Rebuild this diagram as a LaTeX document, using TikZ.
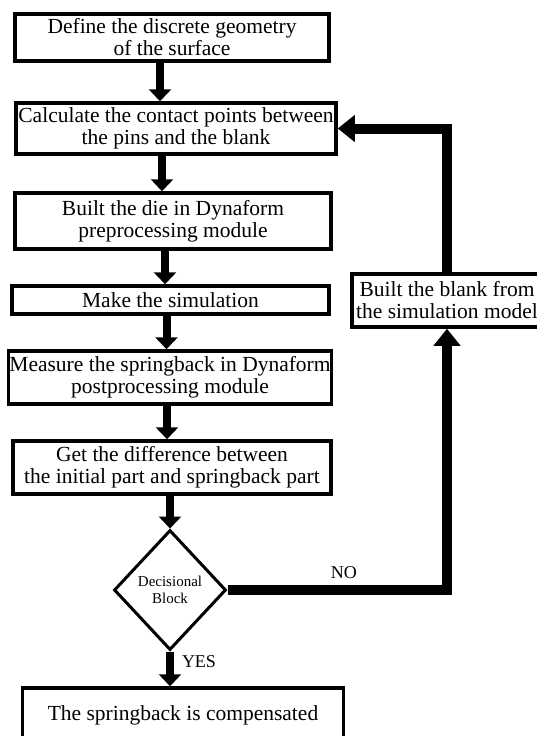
\documentclass[tikz,border=0pt]{standalone}
\usepackage{fontspec}
\setmainfont{Liberation Serif}
\usetikzlibrary{arrows.meta,shapes.geometric,positioning}

\begin{document}
\begin{tikzpicture}[
  x=1pt, y=-1pt,
  font=\fontsize{21.5}{22}\selectfont,
  every node/.style={align=center},
  stepbox/.style={rectangle, draw=black, line width=3.5pt, inner xsep=1pt, inner ysep=2pt, fill=white},
  decision/.style={diamond, draw=black, line width=3pt, inner sep=0pt, minimum width=112pt, minimum height=120pt, fill=white, font=\fontsize{15}{17}\selectfont},
  flowarrow/.style={-{Triangle[length=12pt, width=22pt]}, line width=8pt},
  feedback/.style={-{Triangle[length=17pt, width=26pt]}, line width=10pt},
  lbl/.style={font=\fontsize{18}{18}\selectfont, inner sep=0pt}
]
  \path[use as bounding box, fill=white] (0,0) rectangle (537,736);

  \node[stepbox, minimum width=314pt, minimum height=47pt] (geom)    at (172,37.5)  {Define the discrete geometry\\of the surface};
  \node[stepbox, minimum width=320pt, minimum height=51pt] (contact) at (176,128.5) {Calculate the contact points between\\the pins and the blank};
  \node[stepbox, minimum width=316pt, minimum height=56pt] (die)     at (173,221)   {Built the die in Dynaform\\preprocessing module};
  \node[stepbox, minimum width=317pt, minimum height=28pt] (sim)     at (170.5,300) {Make the simulation};
  \node[stepbox, minimum width=318pt, minimum height=53pt] (spring)  at (170,377.5) {Measure the springback in Dynaform\\postprocessing module};
  \node[stepbox, minimum width=318pt, minimum height=53pt] (diff)    at (172,467.5) {Get the difference between\\the initial part and springback part};
  \node[decision] (dec) at (170,590) {Decisional\\Block};
  \node[stepbox, minimum width=321pt, minimum height=54pt] (comp)    at (183,715)   {The springback is compensated};
  \node[stepbox, minimum width=190pt, minimum height=53pt] (blank)   at (447,300.5) {Built the blank from\\the simulation model};

  \foreach \a/\b/\s in {geom/contact/-12, contact/die/-14, die/sim/-8, sim/spring/-4, spring/diff/-3, diff/dec/-2} {
    \draw[flowarrow] ([xshift=\s pt]\a.south) -- ([xshift=\s pt]\a.south |- \b.north);
  }
  \draw[flowarrow] (dec.south) -- (dec.south |- comp.north) node[pos=0.3, right=8pt, lbl] {YES};

  \draw[feedback] (dec.east) -- node[pos=0.53, above=6pt, lbl] {NO} (dec.east -| blank.south) -- (blank.south);
  \draw[feedback] (blank.north) -- (blank.north |- contact.east) -- (contact.east);
\end{tikzpicture}
\end{document}
